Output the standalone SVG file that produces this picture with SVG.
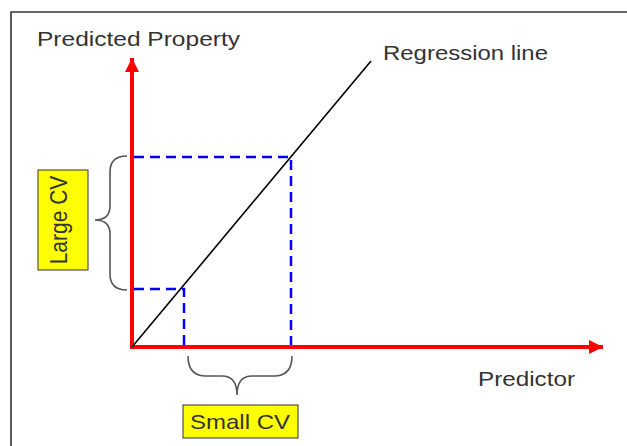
<svg xmlns="http://www.w3.org/2000/svg" width="627" height="446" viewBox="0 0 627 446">
<style>
.t{font-family:"Liberation Sans",Arial,sans-serif;fill:#333;font-size:21px}
.ax{stroke:#ff0000;stroke-width:4;fill:none}
.dash{stroke:#0000ff;stroke-width:2.5;stroke-dasharray:10 6;fill:none}
.br{stroke:#555;stroke-width:1.6;fill:none}
.box{fill:#ffff00;stroke:#333;stroke-width:1}
</style>
<defs>
<marker id="ah" viewBox="0 0 10 10" refX="10" refY="5" markerWidth="4" markerHeight="3.5" markerUnits="strokeWidth" orient="auto">
<path d="M0,0 L10,5 L0,10 Z" fill="#ff0000"/>
</marker>
</defs>
<rect width="627" height="446" fill="#fff"/>
<path d="M11,446 L11,12 L627,12" stroke="#333" stroke-width="1.6" fill="none"/>
<g id="connectors">
<line class="ax" x1="132" y1="349" x2="132" y2="58" marker-end="url(#ah)"/>
<line class="ax" x1="130" y1="347" x2="603" y2="347" marker-end="url(#ah)"/>
<line x1="132" y1="347" x2="371" y2="61" stroke="#000" stroke-width="1.6"/>
<path class="dash" d="M134,157 L291,157 L291,345"/>
<path class="dash" d="M134,289 L184,289 L184,345"/>
<path class="br" d="M127,156 Q110,156 110,172 L110,206 Q110,220 95,220 Q110,220 110,234 L110,274 Q110,290 127,290"/>
<path class="br" d="M188,356 Q188,376 206,376 L222,376 Q237,376 237,395 Q237,376 252,376 L274,376 Q292,376 292,356"/>
</g>
<g id="predicted-property"><text class="t" x="37" y="46" textLength="203" lengthAdjust="spacingAndGlyphs">Predicted Property</text></g>
<g id="regression-line"><text class="t" x="383" y="60" textLength="165" lengthAdjust="spacingAndGlyphs">Regression line</text></g>
<g id="predictor"><text class="t" x="478" y="386" textLength="97" lengthAdjust="spacingAndGlyphs">Predictor</text></g>
<g id="large-cv">
<rect class="box" x="38" y="170" width="50" height="100"/>
<text class="t" transform="translate(67,220) scale(1.18,1) rotate(-90)" text-anchor="middle" font-size="20">Large CV</text>
</g>
<g id="small-cv">
<rect class="box" x="183" y="405" width="115" height="33"/>
<text class="t" x="240" y="429" text-anchor="middle" textLength="100" lengthAdjust="spacingAndGlyphs">Small CV</text>
</g>
</svg>
